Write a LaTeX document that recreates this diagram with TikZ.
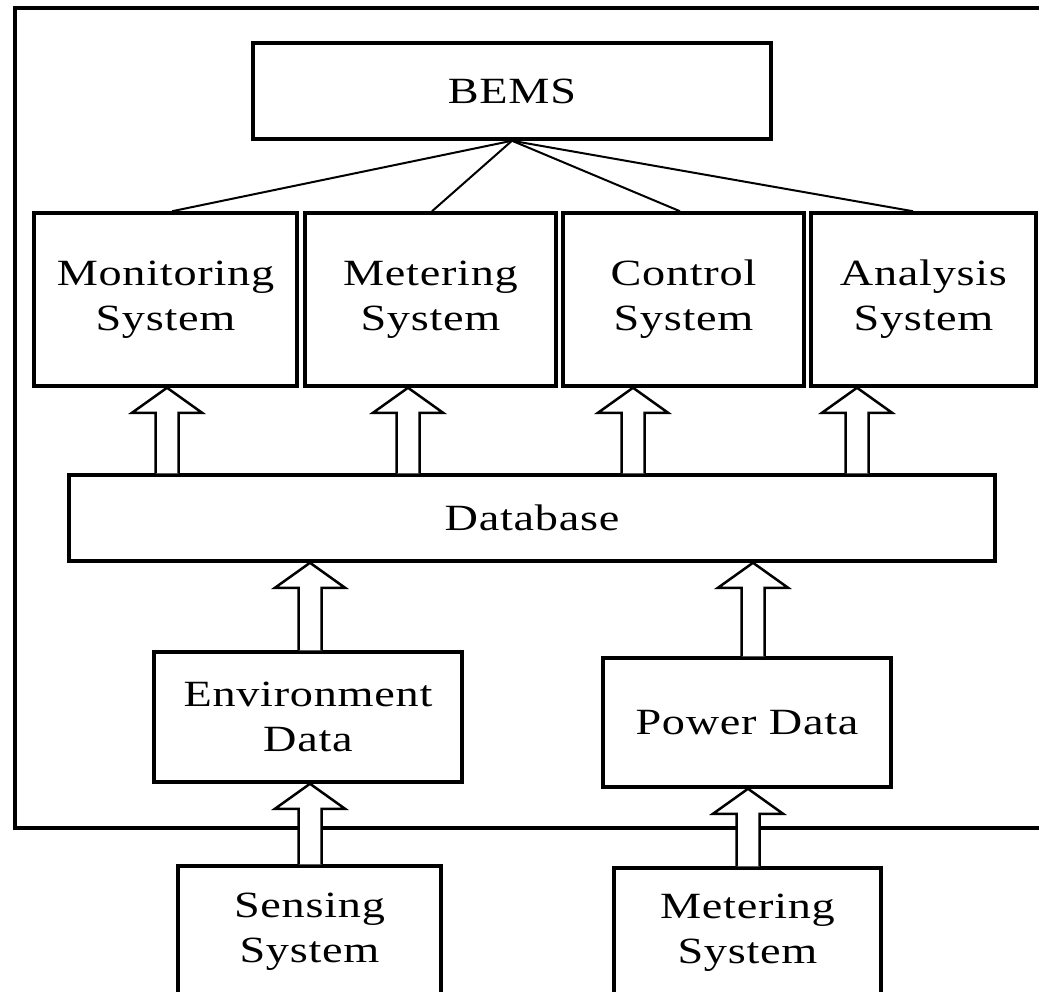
\documentclass[tikz,border=0pt]{standalone}
\usepackage{fontspec}
\setmainfont{Liberation Serif}[FakeStretch=1.25,LetterSpace=2]
\usetikzlibrary{calc}
\begin{document}
\begin{tikzpicture}[x=1pt,y=-1pt,
  box/.style={draw=black, line width=3.5pt, inner sep=0pt, align=center,
    font=\fontsize{37}{45}\selectfont, text=black},
  link/.style={draw=black, line width=2pt},
  fatarrow/.style={draw=black, fill=white, line width=2.5pt, line join=miter,
    to path={let \p1=(\tikztostart), \p2=(\tikztotarget) in
      (\x1-11.5pt,\y1) -- (\x1-11.5pt,\y2-25pt) -- (\x1-35pt,\y2-25pt) -- (\x1,\y2)
      -- (\x1+35pt,\y2-25pt) -- (\x1+11.5pt,\y2-25pt) -- (\x1+11.5pt,\y1)}}]
\path[use as bounding box, clip] (0,0) rectangle (1039,992);

% outer frame
\node[draw=black, line width=3.5pt, minimum width=1045, minimum height=820, inner sep=0pt] (frame) at (537.5,418) {};

% boxes
\node[box, minimum width=518, minimum height=96] (bems) at (512,91) {BEMS};
\node[box, minimum width=263, minimum height=173] (mon) at (165.5,299.5) {Monitoring\\System};
\node[box, minimum width=251, minimum height=173] (met) at (430.5,299.5) {Metering\\System};
\node[box, minimum width=241, minimum height=173] (ctl) at (683.5,299.5) {Control\\System};
\node[box, minimum width=225, minimum height=173] (ana) at (923.5,299.5) {Analysis\\System};
\node[box, minimum width=926, minimum height=86] (db) at (532,518) {Database};
\node[box, minimum width=308, minimum height=130] (env) at (308,717) {Environment\\Data};
\node[box, minimum width=288, minimum height=129] (pow) at (747,722.5) {Power Data};
\node[box, minimum width=263, minimum height=132] (sen) at (309.5,932) {Sensing\\System};
\node[box, minimum width=267, minimum height=130] (msys) at (747.5,933) {Metering\\System};

% lines from BEMS
\draw[link] (bems.south) -- ([xshift=6.5pt]mon.north);
\draw[link] (bems.south) -- ([xshift=1.5pt]met.north);
\draw[link] (bems.south) -- ([xshift=-3.5pt]ctl.north);
\draw[link] (bems.south) -- ([xshift=-10.5pt]ana.north);

% arrow axes
\coordinate (ax1) at (167,0);
\coordinate (ax2) at (408,0);
\coordinate (ax3) at (633,0);
\coordinate (ax4) at (857,0);
\coordinate (ax5) at (310,0);
\coordinate (ax6) at (753,0);
\coordinate (ax7) at (310,0);
\coordinate (ax8) at (748,0);

% block arrows
\draw[fatarrow] (db.north -| ax1) to (mon.south -| ax1);
\draw[fatarrow] (db.north -| ax2) to (met.south -| ax2);
\draw[fatarrow] (db.north -| ax3) to (ctl.south -| ax3);
\draw[fatarrow] (db.north -| ax4) to (ana.south -| ax4);
\draw[fatarrow] (env.north -| ax5) to (db.south -| ax5);
\draw[fatarrow] (pow.north -| ax6) to (db.south -| ax6);
\draw[fatarrow] (sen.north -| ax7) to (env.south -| ax7);
\draw[fatarrow] (msys.north -| ax8) to (pow.south -| ax8);
\end{tikzpicture}
\end{document}
